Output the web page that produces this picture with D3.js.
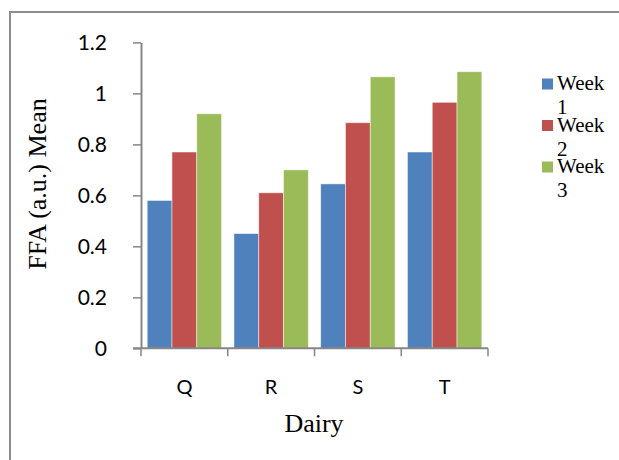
<!DOCTYPE html>
<html><head><meta charset="utf-8">
<script src="https://cdn.jsdelivr.net/npm/d3@7"></script>
<style>body{margin:0;background:#fff}svg{display:block}</style>
</head><body>
<svg id="c" width="619" height="460"></svg>
<script>
const categories = ["Q", "R", "S", "T"];
const seriesNames = ["Week 1", "Week 2", "Week 3"];
const week1 = [0.58, 0.45, 0.645, 0.77];
const week2 = [0.77, 0.61, 0.885, 0.965];
const week3 = [0.92, 0.70, 1.065, 1.085];
const yTicks = [0, 0.2, 0.4, 0.6, 0.8, 1, 1.2];
const colors = ["#4F81BD", "#C0504D", "#9BBB59"];
const series = [week1, week2, week3];

const svg = d3.select("#c");
// frame
svg.append("path").attr("d", "M10,460V12H619").attr("fill", "none").attr("stroke", "#8c8c8c").attr("stroke-width", 2);

const x0 = 141, x1 = 488, yTop = 42.4, yBot = 348.3;
const x = d3.scaleBand().domain(categories).range([x0, x1]).paddingInner(0).paddingOuter(0);
const inner = d3.scaleBand().domain(seriesNames).range([0, x.bandwidth()]).paddingInner(0).paddingOuter(0.25);
const y = d3.scaleLinear().domain([0, 1.2]).range([yBot, yTop]);

// bars
seriesNames.forEach((s, i) => {
  svg.append("g").selectAll("rect").data(categories).join("rect")
    .attr("x", d => x(d) + inner(s))
    .attr("y", (d, j) => y(series[i][j]))
    .attr("width", inner.bandwidth())
    .attr("height", (d, j) => yBot - y(series[i][j]))
    .attr("fill", colors[i])
    .attr("stroke", "rgba(255,255,255,0.6)").attr("stroke-width", 0.8);
});

// y axis
const ya = svg.append("g").attr("transform", `translate(${x0},0)`)
  .call(d3.axisLeft(y).tickValues(yTicks).tickFormat(d => String(d)).tickSizeOuter(0).tickSizeInner(8).tickPadding(26));
ya.select(".domain").attr("stroke", "#868686").attr("stroke-width", 2);
ya.selectAll(".tick line").attr("stroke", "#868686").attr("stroke-width", 1.5);
ya.selectAll("text").attr("font-family", "Lato, 'Open Sans', sans-serif").attr("font-size", 21).attr("fill", "#000");

// x axis
const xa = svg.append("g").attr("transform", `translate(0,${yBot})`)
  .call(d3.axisBottom(x).tickSize(0).tickPadding(32));
xa.select(".domain").attr("stroke", "#868686").attr("stroke-width", 2).attr("d", `M${x0-8},0H${x1}`);
xa.selectAll("text").attr("font-family", "Lato, 'Open Sans', sans-serif").attr("font-size", 20).attr("fill", "#000");
// category boundary ticks
svg.append("g").selectAll("line").data(categories.concat(["end"])).join("line")
  .attr("x1", (d, i) => i < categories.length ? x(d) : x1)
  .attr("x2", (d, i) => i < categories.length ? x(d) : x1)
  .attr("y1", yBot).attr("y2", yBot + 8)
  .attr("stroke", "#868686").attr("stroke-width", 1.5);

// axis titles
svg.append("text").attr("transform", "translate(46,184) rotate(-90)").attr("text-anchor", "middle")
  .attr("font-family", "'Liberation Serif', 'Times New Roman', serif").attr("font-size", 26).text("FFA (a.u.) Mean");
svg.append("text").attr("x", 314).attr("y", 432).attr("text-anchor", "middle")
  .attr("font-family", "'Liberation Serif', 'Times New Roman', serif").attr("font-size", 26).text("Dairy");

// legend
const lg = svg.append("g");
seriesNames.forEach((s, i) => {
  const cy = 84 + i * 41.5;
  lg.append("rect").attr("x", 542).attr("y", cy - 5.5).attr("width", 11).attr("height", 11).attr("fill", colors[i]);
  const parts = s.split(" ");
  const t = lg.append("text").attr("font-family", "'Liberation Serif', 'Times New Roman', serif").attr("font-size", 21).attr("fill", "#000");
  t.append("tspan").attr("x", 557).attr("y", cy + 6).text(parts[0]);
  t.append("tspan").attr("x", 557).attr("y", cy + 30).text(parts[1]);
});
</script>
</body></html>
